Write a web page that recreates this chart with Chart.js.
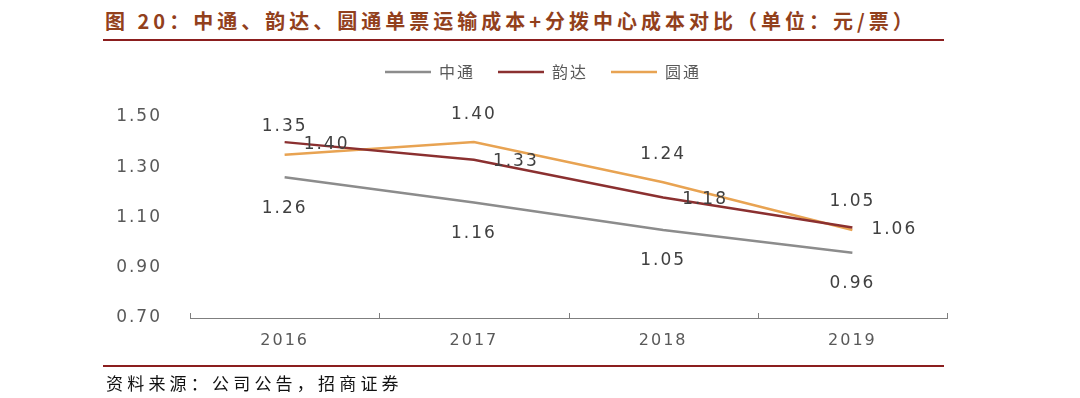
<!DOCTYPE html>
<html>
<head>
<meta charset="utf-8">
<script src="https://cdn.jsdelivr.net/npm/chart.js@4/dist/chart.umd.min.js"></script>
<style>
	html, body { margin: 0; padding: 0; background: #fff; }
	#wrap { position: relative; width: 1080px; height: 398px; overflow: hidden; }
	#chartBox { position: absolute; left: 0; top: 0; width: 1080px; height: 398px; }
	.title { position: absolute; left: 105px; top: 6px; font: bold 20px "Noto Sans CJK SC", sans-serif; color: #92401c; letter-spacing: 4px; white-space: nowrap; }
	.rule { position: absolute; left: 103px; width: 841px; height: 2px; background: #8b1e1e; }
	.source { position: absolute; left: 106px; top: 370px; font: 17px "Noto Sans CJK SC", sans-serif; color: #111; letter-spacing: 4.2px; white-space: nowrap; }
</style>
</head>
<body>
<div id="wrap">
	<div class="title">图 20：中通、韵达、圆通单票运输成本+分拨中心成本对比（单位：元/票）</div>
	<div class="rule" style="top:39px"></div>
	<div id="chartBox"><canvas id="costChart"></canvas></div>
	<div class="rule" style="top:365px"></div>
	<div class="source">资料来源：公司公告，招商证券</div>
</div>
<script>
const years = ['2016', '2017', '2018', '2019'];
const zto = [1.26, 1.16, 1.05, 0.96];
const yunda = [1.40, 1.33, 1.18, 1.06];
const yto = [1.35, 1.40, 1.24, 1.05];
const yTicks = [0.70, 0.90, 1.10, 1.30, 1.50];

// where each series puts its value labels
const labelStyle = [
	{ dx: 0, dy: 31, align: 'center' },
	{ dx: 19, dy: 2, align: 'left' },
	{ dx: 0, dy: -28, align: 'center' }
];

const spacing = {
	id: 'spacing',
	beforeLayout(chart) { chart.ctx.letterSpacing = '2px'; },
	beforeDraw(chart) { chart.ctx.letterSpacing = '2px'; }
};

// extra room under the legend, and centre it over the plot
const legendGap = {
	id: 'legendGap',
	beforeInit(chart) {
		const fit = chart.legend.fit;
		chart.legend.fit = function () {
			fit.call(this);
			this.height += 27;
		};
	},
	afterLayout(chart) {
		chart.legend.left = 139;
	}
};

const axisTicks = {
	id: 'axisTicks',
	afterDraw(chart) {
		const x = chart.scales.x;
		const ctx = chart.ctx;
		const w = x.getPixelForValue(1) - x.getPixelForValue(0);
		const start = x.getPixelForValue(0) - w / 2;
		ctx.save();
		ctx.strokeStyle = '#7f7f7f';
		ctx.lineWidth = 1;
		for (let i = 0; i <= years.length; i++) {
			const px = Math.round(start + i * w) + 0.5;
			ctx.beginPath();
			ctx.moveTo(px, x.top - 5);
			ctx.lineTo(px, x.top);
			ctx.stroke();
		}
		ctx.restore();
	}
};

const valueLabels = {
	id: 'valueLabels',
	afterDatasetsDraw(chart) {
		const ctx = chart.ctx;
		ctx.save();
		ctx.font = '17px "DejaVu Sans", sans-serif';
		ctx.fillStyle = '#404040';
		ctx.textBaseline = 'middle';
		ctx.letterSpacing = '2px';
		chart.data.datasets.forEach((ds, di) => {
			const st = labelStyle[di];
			chart.getDatasetMeta(di).data.forEach((pt, i) => {
				ctx.textAlign = st.align;
				ctx.fillText(ds.data[i].toFixed(2), pt.x + st.dx, pt.y + st.dy);
			});
		});
		ctx.restore();
	}
};

new Chart(document.getElementById('costChart'), {
	type: 'line',
	data: {
		labels: years,
		datasets: [
			{ label: '中通', data: zto, borderColor: '#8c8c8c', backgroundColor: '#8c8c8c', borderWidth: 2.5, pointRadius: 0, tension: 0 },
			{ label: '韵达', data: yunda, borderColor: '#8b3030', backgroundColor: '#8b3030', borderWidth: 2.5, pointRadius: 0, tension: 0 },
			{ label: '圆通', data: yto, borderColor: '#e8a352', backgroundColor: '#e8a352', borderWidth: 2.5, pointRadius: 0, tension: 0 }
		]
	},
	options: {
		responsive: true,
		maintainAspectRatio: false,
		animation: false,
		layout: { padding: { top: 41, right: 133, bottom: 0, left: 0 } },
		plugins: {
			legend: {
				position: 'top',
				labels: {
					usePointStyle: true,
					pointStyle: 'line',
					pointStyleWidth: 46,
					padding: 23,
					color: '#595959',
					font: { family: '"Noto Sans CJK SC", sans-serif', size: 16 }
				}
			},
			tooltip: { enabled: false }
		},
		scales: {
			x: {
				offset: true,
				grid: { display: false, drawTicks: false },
				border: { display: true, color: '#7f7f7f', width: 1 },
				ticks: { color: '#595959', padding: 13, font: { family: '"DejaVu Sans", sans-serif', size: 16 } },
				afterFit(scale) { scale.height = 80; }
			},
			y: {
				min: 0.70,
				max: 1.50,
				grid: { display: false, drawTicks: false },
				border: { display: false },
				afterBuildTicks(scale) { scale.ticks = yTicks.map(v => ({ value: v })); },
				ticks: {
					color: '#595959',
					padding: 28,
					font: { family: '"DejaVu Sans", sans-serif', size: 17 },
					callback: v => Number(v).toFixed(2)
				},
				afterFit(scale) { scale.width = 190; }
			}
		}
	},
	plugins: [spacing, legendGap, axisTicks, valueLabels]
});
</script>
</body>
</html>
